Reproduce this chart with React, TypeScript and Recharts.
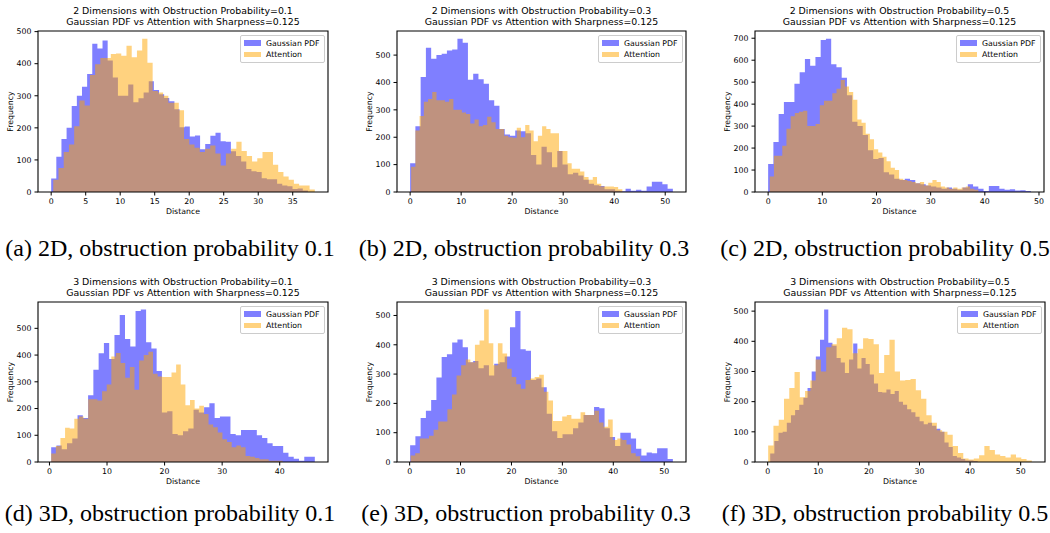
import React from 'react'
import { ComposedChart, Area, XAxis, YAxis, Label, ReferenceArea } from 'recharts'

// 50-bin histogram counts per series
const gauss2d01 = [42, 110, 165, 200, 268, 300, 328, 368, 462, 447, 472, 410, 357, 300, 300, 335, 280, 292, 310, 345, 318, 305, 293, 283, 258, 202, 204, 173, 176, 133, 150, 175, 185, 158, 157, 127, 112, 95, 72, 65, 62, 43, 40, 40, 26, 20, 18, 9, 11, 5]
const attn2d01 = [38, 75, 125, 148, 205, 285, 270, 365, 398, 418, 418, 430, 432, 425, 456, 420, 441, 478, 403, 315, 310, 300, 278, 278, 255, 165, 148, 138, 125, 135, 145, 120, 83, 120, 135, 157, 128, 112, 95, 105, 125, 125, 85, 62, 48, 38, 26, 20, 20, 8]
const gaussRange2d01 = [0, 37.2]
const attnRange2d01 = [0.3, 38.2]

const gauss2d03 = [105, 240, 420, 527, 487, 500, 505, 517, 520, 560, 545, 410, 432, 412, 395, 335, 315, 230, 210, 205, 225, 222, 215, 135, 100, 165, 145, 90, 150, 100, 65, 70, 60, 45, 30, 25, 22, 10, 10, 5, 3, 12, 5, 8, 5, 20, 37, 37, 28, 12]
const attn2d03 = [92, 225, 278, 330, 340, 365, 335, 335, 330, 340, 300, 300, 290, 285, 250, 265, 240, 245, 275, 255, 230, 230, 205, 200, 198, 235, 200, 245, 225, 185, 205, 240, 230, 215, 215, 150, 150, 105, 85, 85, 75, 55, 45, 55, 30, 20, 20, 20, 18, 10]
const gaussRange2d03 = [0, 51.5]
const attnRange2d03 = [0.2, 41.6]

const gauss2d05 = [128, 228, 355, 410, 410, 493, 545, 605, 575, 615, 692, 698, 582, 568, 520, 440, 320, 300, 260, 190, 150, 155, 90, 80, 60, 55, 60, 55, 40, 35, 30, 25, 20, 15, 20, 15, 10, 20, 35, 25, 15, 5, 27, 27, 15, 10, 12, 7, 8, 5]
const attn2d05 = [70, 165, 165, 210, 288, 345, 360, 365, 370, 300, 300, 310, 395, 415, 415, 450, 470, 510, 480, 455, 420, 330, 315, 265, 240, 195, 180, 160, 140, 110, 100, 60, 55, 50, 45, 40, 45, 30, 42, 55, 45, 25, 20, 15, 20, 15, 20, 25, 15, 10]
const gaussRange2d05 = [0, 48.5]
const attnRange2d05 = [0.3, 38.8]

const gauss3d01 = [55, 62, 48, 70, 88, 175, 165, 250, 345, 407, 445, 385, 475, 550, 460, 432, 565, 570, 448, 425, 340, 185, 190, 105, 100, 115, 125, 195, 185, 205, 220, 165, 170, 170, 105, 100, 120, 120, 120, 100, 90, 70, 60, 60, 35, 20, 12, 5, 20, 20]
const attn3d01 = [32, 60, 90, 128, 125, 162, 170, 162, 235, 235, 230, 265, 290, 395, 408, 370, 315, 355, 270, 380, 400, 412, 330, 320, 318, 318, 335, 365, 290, 212, 232, 200, 210, 180, 140, 130, 110, 85, 75, 55, 62, 55, 22, 20, 15, 10, 10, 5, 5, 5]
const gaussRange3d01 = [0.3, 46.1]
const attnRange3d01 = [0.3, 40.5]

const gauss3d03 = [57, 88, 150, 175, 212, 288, 358, 368, 408, 418, 392, 340, 345, 320, 330, 295, 335, 340, 360, 460, 515, 385, 380, 280, 285, 255, 165, 105, 82, 95, 95, 115, 135, 160, 160, 188, 183, 115, 85, 55, 100, 100, 80, 45, 22, 32, 30, 47, 47, 10]
const attn3d03 = [22, 30, 80, 80, 90, 110, 138, 138, 180, 230, 295, 330, 350, 340, 400, 415, 520, 405, 330, 405, 370, 318, 290, 265, 250, 280, 285, 290, 298, 240, 210, 140, 140, 155, 160, 148, 148, 170, 160, 160, 175, 135, 120, 145, 75, 80, 75, 60, 30, 20]
const gaussRange3d03 = [0.1, 51.7]
const attnRange3d03 = [0.2, 45.3]

const gauss3d05 = [28, 70, 97, 100, 130, 155, 172, 190, 213, 245, 300, 350, 405, 505, 395, 385, 345, 330, 295, 340, 393, 310, 345, 325, 290, 260, 232, 230, 240, 225, 235, 200, 190, 175, 165, 150, 135, 125, 130, 120, 110, 100, 65, 50, 20, 15, 10, 5, 5, 3]
const attn3d05 = [55, 120, 140, 210, 245, 298, 215, 235, 270, 340, 300, 380, 390, 410, 445, 440, 360, 375, 410, 408, 390, 295, 355, 405, 300, 270, 272, 275, 238, 210, 155, 130, 105, 100, 90, 53, 30, 12, 8, 12, 22, 53, 40, 25, 20, 15, 25, 15, 10, 5]
const gaussRange3d05 = [0.5, 41.5]
const attnRange3d05 = [0.1, 52.2]

const xTicksA = [0, 5, 10, 15, 20, 25, 30, 35]
const xTicks50 = [0, 10, 20, 30, 40, 50]
const xTicks40 = [0, 10, 20, 30, 40]

const panels = [
  { dims: 2, prob: '0.1', tag: 'a', gauss: gauss2d01, gaussRange: gaussRange2d01, attn: attn2d01, attnRange: attnRange2d01, xTicks: xTicksA },
  { dims: 2, prob: '0.3', tag: 'b', gauss: gauss2d03, gaussRange: gaussRange2d03, attn: attn2d03, attnRange: attnRange2d03, xTicks: xTicks50 },
  { dims: 2, prob: '0.5', tag: 'c', gauss: gauss2d05, gaussRange: gaussRange2d05, attn: attn2d05, attnRange: attnRange2d05, xTicks: xTicks50 },
  { dims: 3, prob: '0.1', tag: 'd', gauss: gauss3d01, gaussRange: gaussRange3d01, attn: attn3d01, attnRange: attnRange3d01, xTicks: xTicks40 },
  { dims: 3, prob: '0.3', tag: 'e', gauss: gauss3d03, gaussRange: gaussRange3d03, attn: attn3d03, attnRange: attnRange3d03, xTicks: xTicks50 },
  { dims: 3, prob: '0.5', tag: 'f', gauss: gauss3d05, gaussRange: gaussRange3d05, attn: attn3d05, attnRange: attnRange3d05, xTicks: xTicks50 },
]

// axes boxes on the page
const boxes = [
  { left: 38, top: 31, width: 290, height: 161, capX: 170, capTop: 236 },
  { left: 397, top: 31, width: 289, height: 161, capX: 524, capTop: 236 },
  { left: 755, top: 31, width: 289, height: 161, capX: 885, capTop: 236 },
  { left: 38, top: 302, width: 290, height: 160, capX: 170, capTop: 501 },
  { left: 397, top: 302, width: 289, height: 160, capX: 526, capTop: 501 },
  { left: 755, top: 302, width: 290, height: 160, capX: 885, capTop: 501 },
]

const YW = 40
const XH = 28
const MT = 8
const MR = 8
const FONT = '"DejaVu Sans", sans-serif'
const tickStyle = { fontSize: 7.8, fill: '#000', fontFamily: FONT }
const labelStyle = { fontSize: 7.8, fill: '#000', fontFamily: FONT }

function steps(counts: number[], range: number[]) {
  const w = (range[1] - range[0]) / counts.length
  const pts = counts.map((c, i) => ({ x: range[0] + i * w, y: c }))
  pts.push({ x: range[1], y: counts[counts.length - 1] })
  return pts
}

function Panel({ p, box }: { p: typeof panels[number]; box: typeof boxes[number] }) {
  const g = steps(p.gauss, p.gaussRange)
  const a = steps(p.attn, p.attnRange)
  const lo = Math.min(p.gaussRange[0], p.attnRange[0])
  const hi = Math.max(p.gaussRange[1], p.attnRange[1])
  const pad = (hi - lo) * 0.05
  const xMin = lo - pad
  const xMax = hi + pad
  const yMax = Math.max(...p.gauss, ...p.attn) * 1.05
  const yTicks: number[] = []
  for (let v = 0; v <= yMax; v += 100) yTicks.push(v)

  return (
    <>
      <div style={{ position: 'absolute', left: box.left, top: box.top - 25, width: box.width, textAlign: 'center', fontSize: 9.4, lineHeight: '10.8px', color: '#000', whiteSpace: 'nowrap' }}>
        <div>{p.dims} Dimensions with Obstruction Probability={p.prob}</div>
        <div>Gaussian PDF vs Attention with Sharpness=0.125</div>
      </div>
      <div style={{ position: 'absolute', left: box.left - YW, top: box.top - MT }}>
        <ComposedChart width={box.width + YW + MR} height={box.height + MT + XH} margin={{ top: MT, right: MR, left: 0, bottom: 0 }}>
          <XAxis type="number" dataKey="x" domain={[xMin, xMax]} ticks={p.xTicks} allowDataOverflow
            height={XH} tickSize={3.5} tickMargin={3} tick={tickStyle} axisLine={false} tickLine={{ stroke: '#000', strokeWidth: 1 }}>
            <Label value="Distance" position="insideBottom" offset={6} style={labelStyle} />
          </XAxis>
          <YAxis type="number" domain={[0, yMax]} ticks={yTicks} allowDataOverflow
            width={YW} tickSize={3.5} tickMargin={3} tick={tickStyle} axisLine={false} tickLine={{ stroke: '#000', strokeWidth: 1 }}>
            <Label value="Frequency" angle={-90} position="insideLeft" offset={12} style={{ ...labelStyle, textAnchor: 'middle' }} />
          </YAxis>
          <Area data={g} dataKey="y" type="stepAfter" fill="blue" fillOpacity={0.5} stroke="none"
            dot={false} activeDot={false} isAnimationActive={false} />
          <Area data={a} dataKey="y" type="stepAfter" fill="orange" fillOpacity={0.5} stroke="none"
            dot={false} activeDot={false} isAnimationActive={false} />
          {/* axes frame (all four spines) */}
          <ReferenceArea x1={xMin} x2={xMax} y1={0} y2={yMax} fill="none" fillOpacity={0}
            stroke="#000" strokeWidth={1.1} strokeOpacity={1} ifOverflow="visible" />
        </ComposedChart>
      </div>
      <div style={{ position: 'absolute', right: 1050 - (box.left + box.width) + 3.5, top: box.top + 3.5, padding: '2px 4px 2px 3px', background: 'rgba(255,255,255,0.8)', border: '1px solid #cccccc', borderRadius: 2, fontSize: 7.8, lineHeight: '11.4px', color: '#000' }}>
        {[{ name: 'Gaussian PDF', color: 'rgba(0,0,255,0.5)' }, { name: 'Attention', color: 'rgba(255,165,0,0.5)' }].map((it) => (
          <div key={it.name} style={{ display: 'flex', alignItems: 'center', whiteSpace: 'nowrap' }}>
            <span style={{ display: 'inline-block', width: 17, height: 5.5, background: it.color, marginRight: 5 }} />
            <span>{it.name}</span>
          </div>
        ))}
      </div>
      <div style={{ position: 'absolute', left: box.capX - 200, top: box.capTop, width: 400, textAlign: 'center', fontFamily: '"Liberation Serif", "Times New Roman", serif', fontSize: 24, lineHeight: '24px', color: '#000', whiteSpace: 'nowrap' }}>
        ({p.tag}) {p.dims}D, obstruction probability {p.prob}
      </div>
    </>
  )
}

export default function App() {
  return (
    <div style={{ position: 'absolute', left: 0, top: 0, width: 1050, height: 533, background: '#fff', overflow: 'hidden', fontFamily: FONT }}>
      {panels.map((p, i) => (
        <Panel key={p.tag} p={p} box={boxes[i]} />
      ))}
    </div>
  )
}
